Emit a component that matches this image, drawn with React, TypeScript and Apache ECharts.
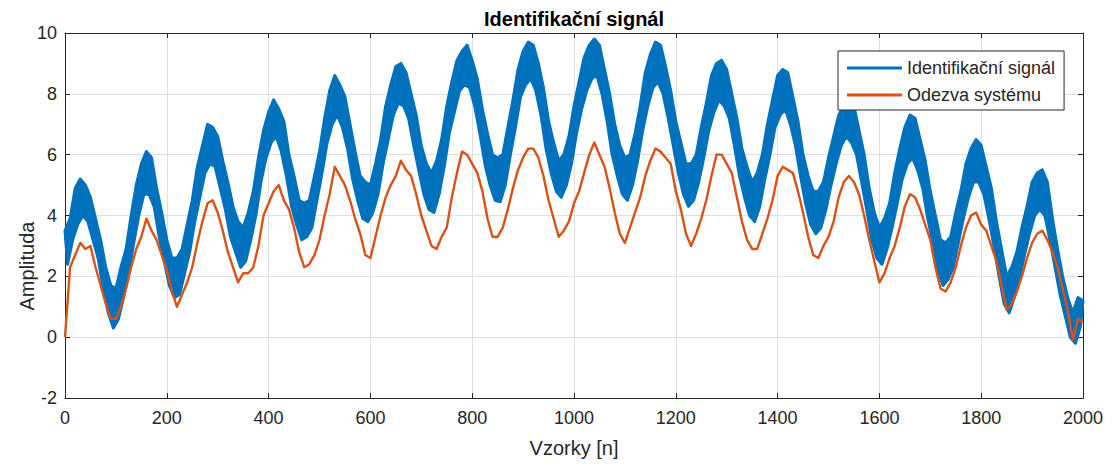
import React, { useEffect, useRef } from "react";
import * as echarts from "echarts";

// sample step of the arrays below
const SAMPLE_STEP = 10;

// Identification signal: upper edge of the noisy band at samples 0,10,...,2000
const identUpper = [
  3.5, 3.9, 4.9, 5.2, 5.0, 4.6, 3.9, 3.2, 2.3, 1.7,
  1.6, 2.3, 2.9, 4.0, 5.0, 5.7, 6.1, 5.9, 4.9, 4.1,
  3.2, 2.6, 2.6, 2.9, 3.7, 4.5, 5.6, 6.3, 7.0, 6.9,
  6.6, 5.8, 5.1, 4.3, 3.8, 3.6, 4.1, 4.8, 5.9, 6.8,
  7.4, 7.8, 7.5, 7.1, 6.0, 5.3, 4.5, 4.4, 4.5, 5.3,
  6.1, 7.2, 8.1, 8.6, 8.3, 7.9, 7.0, 6.1, 5.3, 5.1,
  5.0, 5.7, 6.5, 7.6, 8.3, 8.9, 9.0, 8.7, 8.0, 7.3,
  6.3, 5.7, 5.4, 5.8, 6.5, 7.6, 8.4, 9.1, 9.4, 9.6,
  9.1, 8.5, 7.5, 6.7, 6.0, 5.9, 6.0, 6.9, 7.8, 8.8,
  9.4, 9.7, 9.6, 9.0, 8.2, 7.1, 6.4, 5.8, 6.0, 6.6,
  7.6, 8.4, 9.2, 9.6, 9.8, 9.6, 8.8, 8.0, 7.0, 6.3,
  5.9, 6.0, 6.7, 7.6, 8.7, 9.3, 9.7, 9.6, 8.9, 8.1,
  7.1, 6.4, 5.7, 5.7, 6.0, 6.9, 7.7, 8.6, 9.0, 9.1,
  8.8, 8.0, 7.2, 6.2, 5.6, 5.1, 5.4, 6.0, 7.0, 7.8,
  8.6, 8.8, 8.7, 7.9, 7.1, 6.0, 5.3, 4.8, 4.8, 5.1,
  5.9, 6.6, 7.3, 7.6, 7.7, 7.6, 6.8, 6.0, 4.9, 4.1,
  3.6, 3.9, 4.4, 5.4, 6.2, 6.9, 7.3, 7.2, 6.5, 5.8,
  4.8, 4.0, 3.2, 3.1, 3.3, 4.1, 4.8, 5.7, 6.2, 6.5,
  6.3, 5.6, 4.9, 3.8, 2.9, 2.0, 2.3, 2.8, 3.6, 4.3,
  5.1, 5.4, 5.5, 5.1, 3.9, 2.9, 2.0, 1.3, 0.8, 1.3,
  1.2,
];

// Identification signal: lower edge of the noisy band at samples 5,15,...,1995
const identLower = [
  2.4, 3.2, 3.7, 4.0, 3.8, 3.2, 2.6, 1.6, 0.8, 0.3,
  0.6, 1.3, 2.1, 3.1, 4.0, 4.7, 4.7, 4.3, 3.3, 2.5,
  1.7, 1.3, 1.4, 2.1, 2.8, 3.8, 4.6, 5.4, 5.7, 5.6,
  4.9, 4.2, 3.3, 2.8, 2.3, 2.5, 3.2, 4.0, 5.1, 5.9,
  6.4, 6.6, 6.1, 5.3, 4.3, 3.7, 3.2, 3.3, 3.6, 4.5,
  5.4, 6.4, 7.0, 7.3, 6.9, 6.2, 5.2, 4.5, 3.9, 3.8,
  4.1, 4.7, 5.7, 6.5, 7.3, 7.7, 7.6, 7.2, 6.3, 5.5,
  4.7, 4.2, 4.1, 4.7, 5.6, 6.7, 7.4, 8.1, 8.3, 8.2,
  7.6, 6.7, 5.7, 5.0, 4.5, 4.45, 5.0, 6.0, 6.9, 7.9,
  8.3, 8.5, 8.1, 7.3, 6.2, 5.4, 4.8, 4.6, 5.0, 5.7,
  6.7, 7.5, 8.1, 8.5, 8.6, 8.0, 7.1, 6.0, 5.3, 4.7,
  4.5, 5.0, 5.8, 6.8, 7.6, 8.2, 8.4, 8.0, 7.2, 6.3,
  5.4, 4.7, 4.3, 4.5, 5.1, 5.9, 6.8, 7.4, 7.8, 7.6,
  7.2, 6.3, 5.3, 4.6, 4.0, 3.8, 4.3, 5.2, 6.0, 6.9,
  7.3, 7.5, 7.0, 6.3, 5.3, 4.4, 3.7, 3.4, 3.6, 4.2,
  5.0, 5.7, 6.3, 6.6, 6.4, 6.0, 5.1, 4.2, 3.2, 2.6,
  2.4, 2.9, 3.6, 4.4, 5.2, 5.7, 5.9, 5.5, 4.9, 3.9,
  3.1, 2.2, 1.7, 1.9, 2.3, 3.1, 3.9, 4.6, 5.1, 5.1,
  4.7, 3.9, 3.0, 2.0, 1.1, 0.8, 1.3, 1.9, 2.7, 3.4,
  4.0, 4.2, 4.0, 3.2, 2.3, 1.4, 0.7, 0.0, -0.2, 0.35,
];

// System response at samples 0,10,...,2000
const responseValues = [
  0.0, 2.3, 2.7, 3.1, 2.9, 3.0, 2.3, 1.7, 1.1, 0.6,
  0.6, 1.0, 1.6, 2.3, 2.9, 3.3, 3.9, 3.5, 3.2, 2.7,
  2.2, 1.5, 1.0, 1.4, 1.8, 2.3, 3.1, 3.8, 4.4, 4.5,
  4.1, 3.5, 2.8, 2.3, 1.8, 2.1, 2.1, 2.3, 3.0, 4.0,
  4.4, 4.8, 5.0, 4.5, 4.2, 3.6, 2.8, 2.3, 2.4, 2.7,
  3.2, 4.0, 4.7, 5.6, 5.3, 5.0, 4.5, 3.9, 3.4, 2.7,
  2.6, 3.3, 4.0, 4.6, 5.0, 5.3, 5.8, 5.5, 5.3, 4.7,
  4.0, 3.5, 3.0, 2.9, 3.3, 3.6, 4.6, 5.4, 6.1, 6.0,
  5.7, 5.4, 4.8, 3.9, 3.3, 3.3, 3.6, 4.2, 4.9, 5.5,
  5.9, 6.2, 6.2, 5.9, 5.3, 4.5, 3.9, 3.3, 3.5, 3.8,
  4.4, 4.8, 5.4, 6.0, 6.4, 6.0, 5.6, 4.9, 4.1, 3.4,
  3.1, 3.6, 4.1, 4.6, 5.3, 5.8, 6.2, 6.1, 5.9, 5.7,
  4.8, 4.2, 3.4, 3.0, 3.4, 3.9, 4.5, 5.3, 6.0, 6.0,
  5.7, 5.4, 4.6, 3.8, 3.2, 2.9, 2.9, 3.4, 3.9, 4.5,
  5.3, 5.6, 5.5, 5.4, 4.8, 4.1, 3.3, 2.7, 2.6, 3.0,
  3.3, 3.8, 4.6, 5.1, 5.3, 5.1, 4.7, 4.0, 3.2, 2.5,
  1.8, 2.1, 2.6, 3.0, 3.6, 4.3, 4.7, 4.6, 4.2, 3.7,
  3.2, 2.3, 1.6, 1.5, 1.8, 2.3, 3.0, 3.6, 4.0, 4.1,
  3.7, 3.5, 3.0, 2.5, 1.7, 0.9, 1.1, 1.5, 2.0, 2.6,
  3.1, 3.4, 3.5, 3.2, 2.8, 2.3, 1.6, 0.9, -0.1, 0.6,
  0.5,
];

const xTicks = { min: 0, max: 2000, interval: 200 };
const yTicks = { min: -2, max: 10, interval: 2 };

const FONT = "'Liberation Sans', Arial, Helvetica, sans-serif";
const TEXT = "#262626";
const GRID = "#dfdfdf";
const BLUE = "#0072BD";
const ORANGE = "#D95319";

export default function App() {
  const ref = useRef<HTMLDivElement>(null);

  useEffect(() => {
    if (!ref.current) return;
    const chart = echarts.init(ref.current, null, { renderer: "svg" });

    const identData: [number, number][] = [];
    identUpper.forEach((v, i) => {
      identData.push([i * SAMPLE_STEP, v]);
      if (i < identLower.length) identData.push([i * SAMPLE_STEP + SAMPLE_STEP / 2, identLower[i]]);
    });
    const respData: [number, number][] = responseValues.map((v, i) => [i * SAMPLE_STEP, v]);

    const axisLine = { show: true, onZero: false, lineStyle: { color: TEXT, width: 1 } };
    const tick = { show: true, inside: true, length: 5, lineStyle: { color: TEXT, width: 1 } };

    chart.setOption({
      animation: false,
      backgroundColor: "#ffffff",
      grid: { left: 65, right: 32, top: 33, bottom: 67, containLabel: false },
      xAxis: [
        {
          type: "value",
          position: "bottom",
          ...xTicks,
          axisLine,
          axisTick: tick,
          axisLabel: {
            color: TEXT,
            fontSize: 18,
            fontFamily: FONT,
            margin: 11,
            formatter: (v: number) => String(v),
          },
          splitLine: { show: true, lineStyle: { color: GRID, width: 1 } },
        },
        {
          type: "value",
          position: "top",
          ...xTicks,
          axisLine,
          axisTick: tick,
          axisLabel: { show: false },
          splitLine: { show: false },
        },
      ],
      yAxis: [
        {
          type: "value",
          position: "left",
          ...yTicks,
          axisLine,
          axisTick: tick,
          axisLabel: {
            color: TEXT,
            fontSize: 18,
            fontFamily: FONT,
            margin: 8,
            formatter: (v: number) => String(v),
          },
          splitLine: { show: true, lineStyle: { color: GRID, width: 1 } },
        },
        {
          type: "value",
          position: "right",
          ...yTicks,
          axisLine,
          axisTick: tick,
          axisLabel: { show: false },
          splitLine: { show: false },
        },
      ],
      legend: {
        left: 838,
        top: 51,
        orient: "vertical",
        backgroundColor: "#ffffff",
        borderColor: TEXT,
        borderWidth: 1,
        borderRadius: 0,
        padding: [7, 9, 5, 9],
        itemGap: 7,
        itemWidth: 55,
        itemHeight: 3,
        icon: "rect",
        textStyle: { color: TEXT, fontSize: 18, fontFamily: FONT, lineHeight: 20 },
        data: ["Identifikační signál", "Odezva systému"],
      },
      series: [
        {
          name: "band",
          type: "custom",
          coordinateSystem: "cartesian2d",
          silent: true,
          z: 1,
          data: [[1000, 5]],
          renderItem: (_params: any, api: any) => {
            const pts: number[][] = [];
            identUpper.forEach((v, i) => pts.push(api.coord([i * SAMPLE_STEP, v])));
            for (let i = identLower.length - 1; i >= 0; i--) {
              pts.push(api.coord([i * SAMPLE_STEP + SAMPLE_STEP / 2, identLower[i]]));
            }
            return {
              type: "polygon",
              shape: { points: pts },
              style: { fill: BLUE, stroke: BLUE, lineWidth: 3, lineJoin: "round" },
            };
          },
        },
        {
          name: "Identifikační signál",
          type: "line",
          data: identData,
          showSymbol: false,
          symbol: "none",
          lineStyle: { color: BLUE, width: 2, join: "round" },
          itemStyle: { color: BLUE },
          z: 2,
        },
        {
          name: "Odezva systému",
          type: "line",
          data: respData,
          showSymbol: false,
          symbol: "none",
          lineStyle: { color: ORANGE, width: 2.4, join: "round" },
          itemStyle: { color: ORANGE },
          z: 3,
        },
      ],
      graphic: [
        {
          type: "text",
          x: 574,
          y: 19,
          style: {
            text: "Identifikační signál",
            fontSize: 20,
            fontWeight: "bold",
            fontFamily: FONT,
            fill: "#000000",
            align: "center",
            verticalAlign: "middle",
          },
        },
        {
          type: "text",
          x: 574,
          y: 448,
          style: {
            text: "Vzorky [n]",
            fontSize: 20,
            fontFamily: FONT,
            fill: TEXT,
            align: "center",
            verticalAlign: "middle",
          },
        },
        {
          type: "text",
          x: 27,
          y: 266,
          rotation: Math.PI / 2,
          style: {
            text: "Amplituda",
            fontSize: 20,
            fontFamily: FONT,
            fill: TEXT,
            align: "center",
            verticalAlign: "middle",
          },
        },
      ],
    });

    return () => chart.dispose();
  }, []);

  return (
    <div
      ref={ref}
      style={{ position: "fixed", left: 0, top: 0, width: 1115, height: 465 }}
    />
  );
}
